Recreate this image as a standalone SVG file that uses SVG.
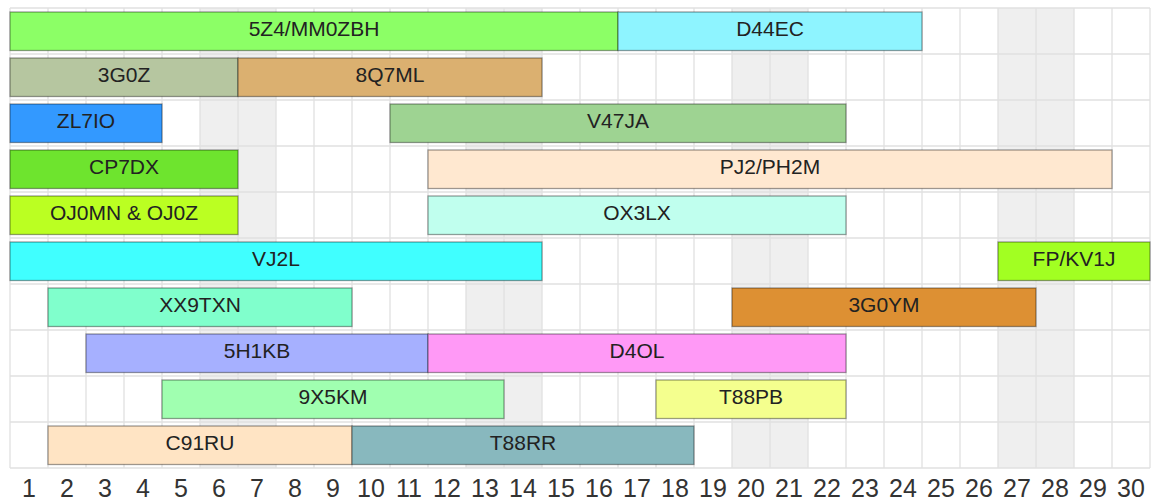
<svg xmlns="http://www.w3.org/2000/svg" width="1152" height="501" viewBox="0 0 1152 501">
<style>
.bar rect{stroke:#000;stroke-opacity:.38;stroke-width:1.3}
.bar text{font-family:"Liberation Sans",Arial,sans-serif;font-size:21px;fill:#222;text-anchor:middle}
.grid line{stroke:#e0e0e0;stroke-width:1.3}
.wk{fill:#efefef}
.ax{font-family:"Liberation Sans",Arial,sans-serif;font-size:25px;fill:#333;text-anchor:middle}
</style>
<rect width="1152" height="501" fill="#fff"/>
<g id="weekends">
<rect class="wk" x="200" y="8" width="76" height="460"/>
<rect class="wk" x="466" y="8" width="76" height="460"/>
<rect class="wk" x="732" y="8" width="76" height="460"/>
<rect class="wk" x="998" y="8" width="76" height="460"/>
</g>
<g id="grid" class="grid">
<line x1="10" y1="8" x2="10" y2="468"/><line x1="48" y1="8" x2="48" y2="468"/><line x1="86" y1="8" x2="86" y2="468"/><line x1="124" y1="8" x2="124" y2="468"/><line x1="162" y1="8" x2="162" y2="468"/><line x1="200" y1="8" x2="200" y2="468"/><line x1="238" y1="8" x2="238" y2="468"/><line x1="276" y1="8" x2="276" y2="468"/><line x1="314" y1="8" x2="314" y2="468"/><line x1="352" y1="8" x2="352" y2="468"/><line x1="390" y1="8" x2="390" y2="468"/><line x1="428" y1="8" x2="428" y2="468"/><line x1="466" y1="8" x2="466" y2="468"/><line x1="504" y1="8" x2="504" y2="468"/><line x1="542" y1="8" x2="542" y2="468"/><line x1="580" y1="8" x2="580" y2="468"/><line x1="618" y1="8" x2="618" y2="468"/><line x1="656" y1="8" x2="656" y2="468"/><line x1="694" y1="8" x2="694" y2="468"/><line x1="732" y1="8" x2="732" y2="468"/><line x1="770" y1="8" x2="770" y2="468"/><line x1="808" y1="8" x2="808" y2="468"/><line x1="846" y1="8" x2="846" y2="468"/><line x1="884" y1="8" x2="884" y2="468"/><line x1="922" y1="8" x2="922" y2="468"/><line x1="960" y1="8" x2="960" y2="468"/><line x1="998" y1="8" x2="998" y2="468"/><line x1="1036" y1="8" x2="1036" y2="468"/><line x1="1074" y1="8" x2="1074" y2="468"/><line x1="1112" y1="8" x2="1112" y2="468"/><line x1="1150" y1="8" x2="1150" y2="468"/>
<line x1="10" y1="8" x2="1150" y2="8"/><line x1="10" y1="54" x2="1150" y2="54"/><line x1="10" y1="100" x2="1150" y2="100"/><line x1="10" y1="146" x2="1150" y2="146"/><line x1="10" y1="192" x2="1150" y2="192"/><line x1="10" y1="238" x2="1150" y2="238"/><line x1="10" y1="284" x2="1150" y2="284"/><line x1="10" y1="330" x2="1150" y2="330"/><line x1="10" y1="376" x2="1150" y2="376"/><line x1="10" y1="422" x2="1150" y2="422"/><line x1="10" y1="468" x2="1150" y2="468"/>
</g>
<g id="axis" class="ax">
<text x="29" y="497">1</text><text x="67" y="497">2</text><text x="105" y="497">3</text><text x="143" y="497">4</text><text x="181" y="497">5</text><text x="219" y="497">6</text><text x="257" y="497">7</text><text x="295" y="497">8</text><text x="333" y="497">9</text><text x="371" y="497">10</text><text x="409" y="497">11</text><text x="447" y="497">12</text><text x="485" y="497">13</text><text x="523" y="497">14</text><text x="561" y="497">15</text><text x="599" y="497">16</text><text x="637" y="497">17</text><text x="675" y="497">18</text><text x="713" y="497">19</text><text x="751" y="497">20</text><text x="789" y="497">21</text><text x="827" y="497">22</text><text x="865" y="497">23</text><text x="903" y="497">24</text><text x="941" y="497">25</text><text x="979" y="497">26</text><text x="1017" y="497">27</text><text x="1055" y="497">28</text><text x="1093" y="497">29</text><text x="1131" y="497">30</text>
</g>
<g id="bar-5Z4" class="bar"><rect x="10" y="12" width="608" height="38.5" fill="#8cff66"/><text x="314" y="36">5Z4/MM0ZBH</text></g>
<g id="bar-D44EC" class="bar"><rect x="618" y="12" width="304" height="38.5" fill="#8ef4ff"/><text x="770" y="36">D44EC</text></g>
<g id="bar-3G0Z" class="bar"><rect x="10" y="58" width="228" height="38.5" fill="#b6c6a0"/><text x="124" y="82">3G0Z</text></g>
<g id="bar-8Q7ML" class="bar"><rect x="238" y="58" width="304" height="38.5" fill="#dbb070"/><text x="390" y="82">8Q7ML</text></g>
<g id="bar-ZL7IO" class="bar"><rect x="10" y="104" width="152" height="38.5" fill="#3399ff"/><text x="86" y="128">ZL7IO</text></g>
<g id="bar-V47JA" class="bar"><rect x="390" y="104" width="456" height="38.5" fill="#9ed392"/><text x="618" y="128">V47JA</text></g>
<g id="bar-CP7DX" class="bar"><rect x="10" y="150" width="228" height="38.5" fill="#6ee42e"/><text x="124" y="174">CP7DX</text></g>
<g id="bar-PJ2" class="bar"><rect x="428" y="150" width="684" height="38.5" fill="#ffe8d0"/><text x="770" y="174">PJ2/PH2M</text></g>
<g id="bar-OJ0MN" class="bar"><rect x="10" y="196" width="228" height="38.5" fill="#bbff22"/><text x="124" y="220">OJ0MN &amp; OJ0Z</text></g>
<g id="bar-OX3LX" class="bar"><rect x="428" y="196" width="418" height="38.5" fill="#c0ffee"/><text x="637" y="220">OX3LX</text></g>
<g id="bar-VJ2L" class="bar"><rect x="10" y="242" width="532" height="38.5" fill="#40ffff"/><text x="276" y="266">VJ2L</text></g>
<g id="bar-FPKV1J" class="bar"><rect x="998" y="242" width="152" height="38.5" fill="#a2ff22"/><text x="1074" y="266">FP/KV1J</text></g>
<g id="bar-XX9TXN" class="bar"><rect x="48" y="288" width="304" height="38.5" fill="#80ffcc"/><text x="200" y="312">XX9TXN</text></g>
<g id="bar-3G0YM" class="bar"><rect x="732" y="288" width="304" height="38.5" fill="#dd9033"/><text x="884" y="312">3G0YM</text></g>
<g id="bar-5H1KB" class="bar"><rect x="86" y="334" width="342" height="38.5" fill="#a6b0ff"/><text x="257" y="358">5H1KB</text></g>
<g id="bar-D4OL" class="bar"><rect x="428" y="334" width="418" height="38.5" fill="#ff99f6"/><text x="637" y="358">D4OL</text></g>
<g id="bar-9X5KM" class="bar"><rect x="162" y="380" width="342" height="38.5" fill="#a0ffb0"/><text x="333" y="404">9X5KM</text></g>
<g id="bar-T88PB" class="bar"><rect x="656" y="380" width="190" height="38.5" fill="#f4ff8e"/><text x="751" y="404">T88PB</text></g>
<g id="bar-C91RU" class="bar"><rect x="48" y="426" width="304" height="38.5" fill="#ffe4c4"/><text x="200" y="450">C91RU</text></g>
<g id="bar-T88RR" class="bar"><rect x="352" y="426" width="342" height="38.5" fill="#88b8be"/><text x="523" y="450">T88RR</text></g>
</svg>
